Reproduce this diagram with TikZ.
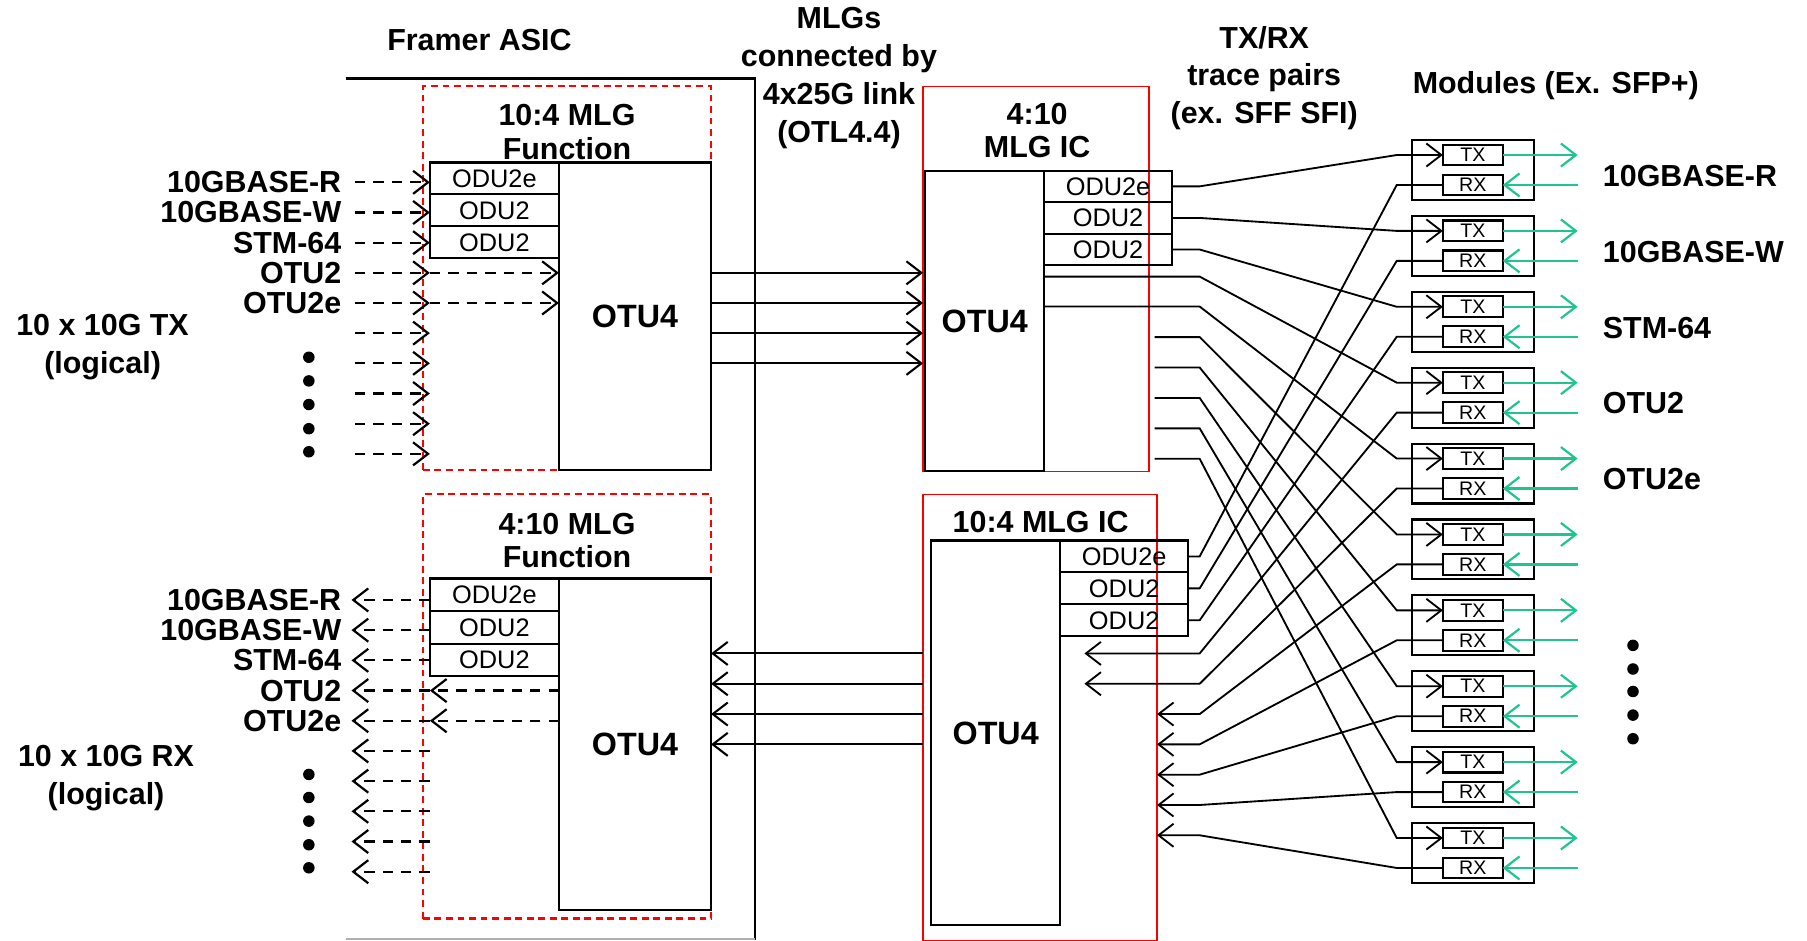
\documentclass[tikz,border=0pt]{standalone}
\usepackage{fontspec}
\setmainfont{Liberation Sans}
\usepackage{xcolor}
\usetikzlibrary{positioning,arrows.meta,calc}
\definecolor{mlg}{HTML}{FF0000}
\definecolor{sfp}{HTML}{1FC491}
\definecolor{rim}{HTML}{B0B0B0}

\begin{document}
\begin{tikzpicture}[x=0.5pt,y=-0.5pt,line width=0.9pt,
   lbl/.style={font=\fontsize{13.2}{16.5}\selectfont\bfseries,inner sep=0pt,align=center},
   twoline/.style={font=\fontsize{13.2}{14.5}\selectfont\bfseries},
   box/.style={draw,inner sep=0pt,outer sep=0pt,anchor=north west},
   odu/.style={box,font=\fontsize{11}{12}\selectfont},
   otu/.style={box,font=\fontsize{14}{15}\selectfont\bfseries},
   fnbox/.style={box,draw=mlg,dash pattern=on 3pt off 2pt,line width=0.9pt},
   icbox/.style={box,draw=mlg,line width=0.7pt},
   modbox/.style={draw,inner sep=0pt,outer sep=0pt,minimum width=53pt,minimum height=26pt},
   port/.style={draw,inner sep=0pt,outer sep=0pt,minimum width=26pt,minimum height=9pt,font=\fontsize{8.5}{9}\selectfont},
   barb/.style={-{Straight Barb[length=6.5pt,width=10pt]}},
   dflow/.style={barb,dash pattern=on 4.5pt off 3.5pt,line width=0.95pt},
   flow/.style={barb,line width=0.9pt},
   trace/.style={line width=0.8pt},
   sfparrow/.style={barb,draw=sfp,line width=0.95pt},
   dot/.style={circle,fill=black,inner sep=0pt,minimum size=5pt}]
\useasboundingbox (0,0) rectangle (1568,816);

% column titles
\node[lbl] (t-asic) at (416,35) {Framer ASIC};
\node[lbl] (t-link) at (728,68) {MLGs\\connected by\\4x25G link\\(OTL4.4)};
\node[lbl,font=\fontsize{13.2}{16.25}\selectfont\bfseries] (t-pair) at (1097,67.5) {TX/RX\\trace pairs\\(ex. SFF SFI)};
\node[lbl] (t-mod) at (1350,74) {Modules (Ex. SFP+)};

% framer ASIC outline, open on the left
\draw[line width=1pt] (300,68) -- (655,68) -- (655,816);
\draw[draw=rim] (300,815) -- (655,815);

% 10:4 MLG function (TX side)
\node[fnbox,minimum width=125pt,minimum height=166.5pt] (fa) at (367,75) {};
\node[lbl,twoline] (fa-t) at (492,114.5) {10:4 MLG\\Function};
\node[odu,minimum width=56pt,minimum height=13.85pt] (fa-o1) at (373,141) {ODU2e};
\node[odu,minimum width=56pt,minimum height=13.85pt,below=0pt of fa-o1] (fa-o2) {ODU2};
\node[odu,minimum width=56pt,minimum height=13.85pt,below=0pt of fa-o2] (fa-o3) {ODU2};
\node[otu,minimum width=66pt,minimum height=133.5pt] (fa-u) at (485,141) {OTU4};

% 4:10 MLG function (RX side)
\node[fnbox,minimum width=125pt,minimum height=184pt] (fb) at (367,429) {};
\node[lbl,twoline] (fb-t) at (492,469) {4:10 MLG\\Function};
\node[odu,minimum width=56pt,minimum height=14.15pt] (fb-o1) at (373,502) {ODU2e};
\node[odu,minimum width=56pt,minimum height=14.15pt,below=0pt of fb-o1] (fb-o2) {ODU2};
\node[odu,minimum width=56pt,minimum height=14.15pt,below=0pt of fb-o2] (fb-o3) {ODU2};
\node[otu,minimum width=66pt,minimum height=144pt] (fb-u) at (485,502) {OTU4};

% logical TX lanes
\foreach \i in {1,...,10}
  \coordinate (ti\i) at (308,{158.2+26.18*(\i-1)});
\foreach \i in {1,...,10}
  \draw[dflow] (ti\i) -- (ti\i -| fa-o1.west);
\foreach \i in {4,5}
  \draw[dflow] (ti\i -| fa-o1.west) -- (ti\i -| fa-u.west);
\foreach \i/\t in {1/10GBASE-R,2/10GBASE-W,3/STM-64,4/OTU2,5/OTU2e}
  \node[lbl,anchor=east] (tl\i) at (297,{158.2+26.18*(\i-1)}) {\t};
\foreach \y [count=\n] in {310,330.5,351,372,392}
  \node[dot] (td\n) at (268,\y) {};
\node[lbl] (tx-note) at (89,301.5) {10 x 10G TX\\(logical)};

% logical RX lanes
\foreach \i in {1,...,10}
  \coordinate (ri\i) at (305,{520.6+26.2*(\i-1)});
\foreach \i in {1,...,10}
  \draw[dflow] (ri\i -| fb-o1.west) -- (ri\i);
\foreach \i in {4,5}
  \draw[dflow] (ri\i -| fb-u.west) -- (ri\i -| fb-o1.west);
\foreach \i/\t in {1/10GBASE-R,2/10GBASE-W,3/STM-64,4/OTU2,5/OTU2e}
  \node[lbl,anchor=east] (rl\i) at (297,{520.6+26.2*(\i-1)}) {\t};
\foreach \y [count=\n] in {672,692,712.5,733,753}
  \node[dot] (rd\n) at (268,\y) {};
\node[lbl] (rx-note) at (92,675) {10 x 10G RX\\(logical)};

% 4:10 MLG IC
\node[icbox,minimum width=98pt,minimum height=167pt] (icc) at (801,75) {};
\node[lbl,twoline] (icc-t) at (900,113.5) {4:10\\MLG IC};
\node[otu,minimum width=51.5pt,minimum height=130.5pt] (icc-u) at (803,148) {OTU4};
\node[odu,minimum width=55.5pt,minimum height=13.7pt] (icc-o1) at (906,148) {ODU2e};
\node[odu,minimum width=55.5pt,minimum height=13.7pt,below=0pt of icc-o1] (icc-o2) {ODU2};
\node[odu,minimum width=55.5pt,minimum height=13.7pt,below=0pt of icc-o2] (icc-o3) {ODU2};

% 10:4 MLG IC
\node[icbox,minimum width=101.5pt,minimum height=193.5pt] (icd) at (801,429) {};
\node[lbl] (icd-t) at (903,453) {10:4 MLG IC};
\node[otu,minimum width=56pt,minimum height=167pt] (icd-u) at (808,469) {OTU4};
\node[odu,minimum width=55.5pt,minimum height=13.85pt] (icd-o1) at (920,469) {ODU2e};
\node[odu,minimum width=55.5pt,minimum height=13.85pt,below=0pt of icd-o1] (icd-o2) {ODU2};
\node[odu,minimum width=55.5pt,minimum height=13.85pt,below=0pt of icd-o2] (icd-o3) {ODU2};

% 4x25G links
\foreach \i in {4,...,7}
  \draw[flow] (ti\i -| fa-u.east) -- (ti\i -| icc.west);

% modules
\foreach \k in {1,...,10} {
  \node[modbox] (mod\k) at (1278,{147.5+65.85*(\k-1)}) {};
  \node[port] (tx\k) at ($(mod\k)+(0,-13)$) {TX};
  \node[port] (rx\k) at ($(mod\k)+(0,13)$) {RX};
}
\coordinate (bl) at (1041,0);
\coordinate (br) at (1212,0);
\coordinate (gx) at (1369,0);
\foreach \k in {1,...,10} {
  \draw[sfparrow] (tx\k.east) -- (tx\k.east -| gx);
  \draw[sfparrow] (rx\k.east -| gx) -- (rx\k.east);
}
\foreach \k/\t in {1/10GBASE-R,2/10GBASE-W,3/STM-64,4/OTU2,5/OTU2e}
  \node[lbl,anchor=west] (ml\k) at ($(mod\k.east)+(59,5)$) {\t};
\foreach \y [count=\n] in {560,580.5,600,620.5,641}
  \node[dot] (md\n) at (1417,\y) {};

% TX trace pairs
\coordinate (ts4) at (906,240);
\coordinate (ts5) at (906,266);
\foreach \k in {6,...,10}
  \coordinate (ts\k) at (1002,{292.5+26.4*(\k-6)});
\foreach \k/\s in {1/icc-o1.east,2/icc-o2.east,3/icc-o3.east,4/ts4,5/ts5,6/ts6,7/ts7,8/ts8,9/ts9,10/ts10}
  \draw[trace,barb] (\s) -- (\s -| bl) -- (tx\k.west -| br) -- (tx\k.west);

% RX trace pairs
\coordinate (re4) at (941,567);
\coordinate (re5) at (941,593.3);
\foreach \k in {6,...,10}
  \coordinate (re\k) at (1004,{619.6+26.3*(\k-6)});
\foreach \k/\e in {1/icd-o1.east,2/icd-o2.east,3/icd-o3.east}
  \draw[trace] (rx\k.west) -- (rx\k.west -| br) -- (\e -| bl) -- (\e);
\foreach \k in {4,...,10}
  \draw[trace,barb] (rx\k.west) -- (rx\k.west -| br) -- (re\k -| bl) -- (re\k);
\foreach \k in {4,...,7}
  \draw[flow] (re\k -| icd.west) -- (re\k -| fb-u.east);
\end{tikzpicture}
\end{document}
